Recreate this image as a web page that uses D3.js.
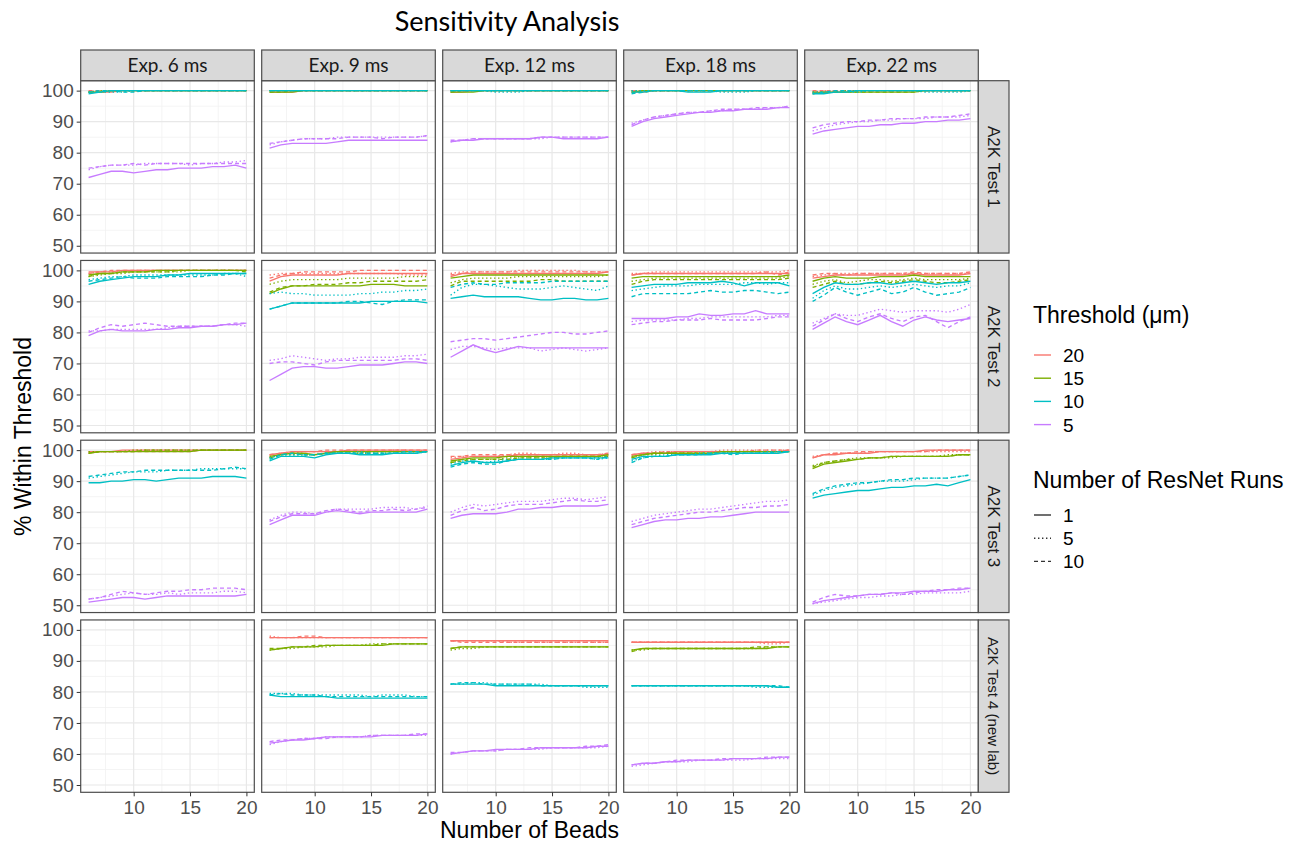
<!DOCTYPE html>
<html>
<head>
  <script src="https://d3js.org/d3.v7.min.js"></script>
  <style>
    body {
  margin: 0;
  background-color: #ffffff;
}

svg {
  display: block;
  font-family: Arial, 'Liberation Sans', sans-serif;
}

.grid-major {
  stroke: #e8e8e8;
  stroke-width: 1.2px;
}

.grid-minor {
  stroke: #f1f1f1;
  stroke-width: 0.8px;
}

.series {
  fill: none;
  stroke-width: 1.35px;
}

.axis text {
  fill: #4d4d4d;
  font-size: 19px;
  font-family: Arial, 'Liberation Sans', sans-serif;
}

.axis line {
  stroke: #333333;
}

.strip rect {
  fill: #d9d9d9;
  stroke: #4d4d4d;
  stroke-width: 1.2px;
}
  </style>
</head>
<body>

<script>
// Facets and legend levels
const exposures = ["Exp. 6 ms", "Exp. 9 ms", "Exp. 12 ms", "Exp. 18 ms", "Exp. 22 ms"];
const tests = ["A2K Test 1", "A2K Test 2", "A2K Test 3", "A2K Test 4 (new lab)"];
const thresholds = ["20", "15", "10", "5"];
const runs = ["1", "5", "10"];
const beads = [6, 7, 8, 9, 10, 11, 12, 13, 14, 15, 16, 17, 18, 19, 20];
const xTicks = [10, 15, 20];
const yTicks = [50, 60, 70, 80, 90, 100];

// Each panel: 12 series, threshold 20/15/10/5, each with runs 1/5/10
const test1_exp6 = [
  [99.5,99.5,99.5,100,100,100,100,100,100,100,100,100,100,100,100],
  [99.5,100,100,100,100,100,100,100,100,100,100,100,100,100,100],
  [100,100,100,100,100,100,100,100,100,100,100,100,100,100,100],
  [99.5,99.5,100,100,100,100,100,100,100,100,100,100,100,100,100],
  [99.5,100,100,100,100,100,100,100,100,100,100,100,100,100,100],
  [99.5,99.5,100,100,100,100,100,100,100,100,100,100,100,100,100],
  [99,99.5,100,100,100,100,100,100,100,100,100,100,100,100,100],
  [99.5,99.5,99.5,99.5,100,100,100,100,100,100,100,100,100,100,100],
  [99.5,100,100,99.5,99.5,100,100,100,100,100,100,100,100,100,100],
  [72,73,74,74,73.5,74,74.5,74.5,75,75,75,75.5,75.5,76,75],
  [74.5,75.5,76,76,76,76.5,76.5,76.5,76.5,76,76.5,76.5,77,77,77.5],
  [75,75.5,76,76,76.5,76,76.5,76.5,76.5,76.5,76.5,76.5,76.5,76.5,76.5]
];
const test1_exp9 = [
  [99.5,99.5,99.5,100,100,100,100,100,100,100,100,100,100,100,100],
  [100,100,100,100,100,100,100,100,100,100,100,100,100,100,100],
  [100,100,100,100,100,100,100,100,100,100,100,100,100,100,100],
  [99.5,99.5,99.5,100,100,100,100,100,100,100,100,100,100,100,100],
  [100,100,100,100,100,100,100,100,100,100,100,100,100,100,100],
  [99.5,99.5,100,100,100,100,100,100,100,100,100,100,100,100,100],
  [100,100,100,100,100,100,100,100,100,100,100,100,100,100,100],
  [100,100,100,100,100,100,100,100,100,100,100,100,100,100,100],
  [100,100,100,100,100,100,100,100,100,100,100,100,100,100,100],
  [81.5,82.5,83,83,83,83,83.5,84,84,84,84,84,84,84,84],
  [82.5,83.5,84,84.5,84.5,84.5,85,85,85,85,85,85,85,85,85.5],
  [83,83.5,84,84.5,84.5,84.5,84.5,85,85,85,84.5,85,85,85,85.5]
];
const test1_exp12 = [
  [99.5,99.5,100,100,100,100,100,100,100,100,100,100,100,100,100],
  [100,100,100,100,100,100,100,100,100,100,100,100,100,100,100],
  [100,100,100,100,100,100,100,100,100,100,100,100,100,100,100],
  [99.5,99.5,99.5,100,100,100,100,100,100,100,100,100,100,100,100],
  [100,100,100,100,100,100,100,100,100,100,100,100,100,100,100],
  [99.5,100,100,100,100,100,100,100,100,100,100,100,100,100,100],
  [100,100,100,100,100,100,100,100,100,100,100,100,100,100,100],
  [100,100,100,100,99.5,99.5,99.5,100,100,100,100,100,100,100,100],
  [100,100,100,100,100,100,100,100,100,100,100,100,100,100,100],
  [83.5,84,84,84.5,84.5,84.5,84.5,84.5,85,85,84.5,84.5,84.5,84.5,85],
  [83.5,84,84.5,84.5,84.5,84.5,84.5,84.5,84.5,85,85,85,85,85,85],
  [84,84,84.5,84.5,84.5,84.5,84.5,84.5,85,85,85,85,85,85,85]
];
const test1_exp18 = [
  [99.5,99.5,100,100,100,100,100,100,100,100,100,100,100,100,100],
  [100,100,100,100,100,100,100,100,100,100,100,100,100,100,100],
  [100,100,100,100,100,100,100,100,100,100,100,100,100,100,100],
  [99.5,100,100,100,100,100,100,100,100,100,100,100,100,100,100],
  [100,100,100,100,100,100,100,100,100,100,100,100,100,100,100],
  [99.5,99.5,100,100,100,100,100,100,100,100,100,100,100,100,100],
  [99.5,99.5,100,100,100,99.5,99.5,99.5,100,100,100,100,100,100,100],
  [100,100,100,100,100,100,100,100,99.5,99.5,99.5,100,100,100,100],
  [99,99.5,100,100,100,100,100,100,100,100,100,100,100,100,100],
  [88.5,90,91,91.5,92,92.5,93,93,93.5,93.5,94,94,94,94.5,94.5],
  [89.5,90.5,91.5,92,92.5,93,93,93.5,93.5,94,94,94,94.5,94.5,95],
  [89,90.5,91.5,92,92.5,93,93,93.5,94,94,94,94.5,94.5,94.5,95]
];
const test1_exp22 = [
  [99.5,99.5,99.5,99.5,100,100,100,100,100,100,100,100,100,100,100],
  [99.5,100,100,100,100,100,100,100,100,100,100,100,100,100,100],
  [100,100,100,100,100,100,100,100,100,100,100,100,100,100,100],
  [99,99.5,99.5,99.5,99.5,99.5,99.5,99.5,99.5,99.5,100,100,100,100,100],
  [99.5,99.5,99.5,100,100,100,100,100,100,100,100,100,100,100,100],
  [99.5,99.5,99.5,99.5,99.5,99.5,99.5,99.5,99.5,99.5,100,100,100,100,100],
  [99,99,99.5,99.5,100,100,100,100,100,100,100,100,100,100,100],
  [99.5,99.5,99.5,99.5,99.5,100,100,100,100,100,99.5,99.5,99.5,99.5,100],
  [99,99.5,100,100,100,100,100,100,100,100,100,100,100,100,100],
  [86,87,87.5,88,88.5,88.5,89,89,89.5,89.5,90,90,90.5,90.5,91],
  [87,88,89,89.5,90,90,90.5,90.5,91,91,91,91.5,91.5,91.5,92],
  [88,89,89.5,90,90,90.5,90.5,91,91,91,91.5,91.5,91.5,92,92.5]
];

const test2_exp6 = [
  [99.5,99.5,99.5,100,100,100,100,100,100,100,100,100,100,100,100],
  [99,99.5,99.5,99.5,100,100,100,100,100,100,100,100,100,100,100],
  [99,99.5,100,100,100,100,100,100,100,100,100,100,100,100,100],
  [98.5,99,99,99.5,99.5,99.5,100,100,100,100,100,100,100,100,100],
  [98,98.5,99,99,99.5,99.5,99.5,99.5,99.5,100,100,100,100,100,100],
  [98,99,99,99.5,99.5,99.5,99.5,99.5,100,100,100,100,100,100,99.5],
  [95.5,96.5,97,97.5,98,98,98,98.5,98.5,99,99,99,99,99,99],
  [97,97.5,98,98,98.5,98.5,98.5,98.5,98.5,98.5,98.5,98.5,99,99,98],
  [96.5,97,97.5,98,97.5,97.5,97.5,98,98,98,98,98.5,98.5,99,99],
  [79,80.5,81,80.5,80.5,80.5,81,81,81.5,81.5,82,82,82.5,82.5,83],
  [80.5,80.5,81,81,81,81,81,81.5,82,82,82,82,82.5,82.5,82],
  [80,81.5,82.5,82,82.5,83,82.5,82,82,82,82,82,82.5,83,83]
];
const test2_exp9 = [
  [96.5,98,98.5,98.5,98.5,98.5,98.5,99,99,99,99,99,99,99,99],
  [98.5,99,99,99,99,99,99,99,99,99,99,99,98.5,98.5,98.5],
  [97.5,98.5,99,99.5,99.5,99.5,99.5,99.5,100,100,100,100,100,100,100],
  [92.5,94,95,95,95,95,95,95,95,95.5,95.5,95.5,95,95,95],
  [95.5,96.5,97,97,97,97,97,97.5,97.5,97.5,97.5,97.5,98,98,98],
  [93,94.5,95,95,95.5,95.5,95.5,96,96,96.5,96.5,96.5,96.5,96.5,97],
  [87.5,88.5,89.5,89.5,89.5,89.5,89.5,89.5,89.5,90,90,90,90,90,89.5],
  [92.5,93,92.5,92.5,92,92,92,92,92.5,92.5,93,93,93.5,93.5,94],
  [87.5,88.5,89.5,89.5,89.5,89.5,89.5,90,90,89.5,89,90,90.5,90.5,90.5],
  [64.5,66.5,68.5,69,69,68.5,68.5,69,69.5,69.5,69.5,70,70.5,70.5,70],
  [71,71.5,72.5,72,71.5,71,71.5,71.5,72,72,72,72,72.5,72.5,73],
  [70,70.5,70.5,70,69.5,70.5,71,71,71,71,71,71,71.5,71.5,71]
];
const test2_exp12 = [
  [98,99,99,99,99,99,99,99,99,99,99,99,99,99,99.5],
  [99,99.5,99.5,99.5,99.5,99.5,100,100,100,100,100,100,99.5,99.5,99.5],
  [98.5,99,99.5,99.5,99.5,99.5,99.5,99.5,99.5,99.5,99.5,99.5,99.5,99.5,99.5],
  [97.5,98,98.5,98.5,98.5,98.5,98.5,98.5,98.5,98.5,98.5,98.5,98.5,98.5,98.5],
  [96,97,97.5,97.5,97.5,97.5,98,98,98,98,98,98,98,98,98.5],
  [95,96.5,96.5,96.5,96.5,96.5,96.5,96.5,97,97,96.5,96.5,96.5,96.5,96.5],
  [91,91.5,92,91.5,91.5,91.5,91.5,91,90.5,90.5,91,91,90.5,90.5,91],
  [92,94.5,95.5,95.5,95,94.5,94,94,94,94.5,95,94.5,94,93.5,95],
  [94.5,95.5,96,95.5,95.5,96,96,96,96,96.5,96.5,96.5,96.5,96.5,96.5],
  [72,74,76,74.5,73.5,74.5,75.5,75,75,75,75,75,75,75,75],
  [74.5,75.5,75.5,75,74.5,75,75,75,74,74.5,75,74.5,74,74.5,75],
  [77,77.5,78,78,77.5,78,78.5,79,79.5,80,80,79.5,79.5,80,80.5]
];
const test2_exp18 = [
  [98.5,99,99,99,99,99,99,99,99,99,99,99,99,99,99],
  [99,99,99.5,99.5,99.5,99.5,99.5,99.5,99.5,99.5,99.5,99.5,99.5,99.5,100],
  [98.5,99,99,99,99,99,99,99,99,99,99,99,99.5,98.5,99.5],
  [97.5,98,98,98,98,98,98,98,98,98,98,98,98,98,98.5],
  [96.5,97,97.5,97.5,97.5,97.5,97.5,97.5,97.5,97.5,97.5,97.5,97.5,97.5,98],
  [95.5,96.5,97,97,97,97,97,97,97,97,97,97,97,97,97.5],
  [94.5,95,95.5,95.5,95.5,96,96,96,96.5,96,95,96,96,96,95],
  [93.5,94,94.5,95,95,95,95.5,95.5,95.5,95.5,96,96,95.5,96,96],
  [91.5,92.5,92.5,92.5,92.5,92.5,93,93.5,93,93,93.5,93.5,93,92.5,93],
  [84.5,84.5,84.5,84.5,85,85,86,85.5,85.5,86,86,87,86,86,86],
  [83.5,84,84,84,84,84.5,84.5,85,85,85,85,85,85,85.5,85.5],
  [82.5,83,83.5,83.5,84,84,84,84.5,84,84,84,84,84.5,85,85]
];
const test2_exp22 = [
  [97.5,98,98.5,98.5,98.5,98.5,98.5,98.5,98.5,99,98.5,98.5,98.5,98.5,99],
  [98,98.5,99,99,99,99,99,99,99,99,99,99,99,99,99],
  [98.5,99,99,98.5,99,99,99,99,99,99.5,99,99,99,99,99.5],
  [96.5,97.5,98,97.5,97.5,97.5,98,98,98,98.5,98,98,98,98,98],
  [95.5,96.5,97,96,96.5,97,97,96.5,97,97.5,97,97,97,97,97.5],
  [94.5,95.5,96.5,95.5,95.5,96,96.5,96,96.5,97,96.5,96,96,96.5,97],
  [92.5,94.5,96,95.5,95.5,96,96,95.5,96,96.5,96,95.5,96,96,96.5],
  [91,93.5,95,94,94,94.5,95,94.5,95,95.5,95,94.5,95,95,96],
  [90,92,94.5,93,92,93,94,92.5,93,94.5,93,92,92.5,93,94.5],
  [81,83,85,83.5,82.5,84,85.5,83.5,82,84,85,84,83.5,84,84.5],
  [83,84.5,86,85.5,85.5,86.5,87.5,87,86.5,87,87,87,86.5,87.5,89],
  [82,84,86,84.5,83.5,85,86,84.5,83.5,85,85.5,83.5,81.5,83.5,85]
];

const test3_exp6 = [
  [99.5,99.5,99.5,100,100,100,100,100,100,100,100,100,100,100,100],
  [99,99.5,99.5,99.5,100,100,100,100,100,100,100,100,100,100,100],
  [99.5,99.5,99.5,99.5,99.5,99.5,99.5,99.5,99.5,99.5,100,100,100,100,100],
  [99,99.5,99.5,99.5,99.5,99.5,99.5,99.5,99.5,99.5,100,100,100,100,100],
  [99.5,99.5,99.5,99.5,100,100,100,100,100,100,100,100,100,100,100],
  [99,99.5,99.5,99.5,99.5,100,100,100,100,100,100,100,100,100,100],
  [89.5,89.5,90,90,90.5,90.5,90,90.5,91,91,91,91.5,91.5,91.5,91],
  [91,91.5,92,92.5,93,93,93,93.5,93.5,93.5,94,94,94,94,94],
  [91.5,92,92.5,93,93,93.5,93.5,93.5,93.5,93.5,93.5,93.5,94,94.5,94],
  [51,51.5,52,52.5,52.5,52,52.5,53,53,53,53,53,53,53,53.5],
  [52,52.5,53,53.5,54,53.5,53.5,54,53.5,54,54,54,54.5,54.5,54],
  [52,52.5,53.5,54.5,54,53.5,54,54.5,54.5,55,55,55.5,55.5,55.5,55]
];
const test3_exp9 = [
  [98.5,99,99.5,99.5,99.5,99.5,99.5,100,100,100,100,100,100,100,100],
  [98,99,99,99.5,99.5,99.5,99.5,99.5,99.5,99.5,99.5,100,100,99.5,100],
  [98.5,99,99.5,99.5,99.5,100,100,100,100,100,100,100,100,100,100],
  [98,98.5,99,99,98.5,99,99.5,99.5,99.5,99.5,99.5,99.5,99.5,99.5,99.5],
  [97.5,98.5,98.5,98.5,98.5,99,99,99,99,99,99,99,99.5,99.5,99.5],
  [97.5,98.5,99,98.5,98.5,99,99.5,99,99,99.5,99.5,99.5,99.5,99.5,99.5],
  [96.5,98,98,98,97.5,98.5,99,99,98.5,98.5,98.5,99,99,99,99.5],
  [97.5,98.5,98.5,98.5,98.5,99,99,99,99.5,99,99,99,99,99,99.5],
  [97,98.5,99,98.5,98.5,99,99,99,99,99,99,99,99.5,99.5,99.5],
  [76,77.5,79,79,79,80,80.5,80,79.5,80,80,80,80,80,81],
  [77.5,79,80,80,79.5,80,81,81,81,81,81.5,81.5,81.5,81,82],
  [77,78.5,79.5,79.5,79.5,80.5,81,80.5,80,80.5,80.5,81,80.5,81,81.5]
];
const test3_exp12 = [
  [97,97.5,98,98,98,98,98.5,98.5,98.5,98.5,98.5,98.5,98.5,98.5,98.5],
  [97.5,98,98,98,98,98.5,99,99,98.5,98.5,99,99,98.5,98.5,99],
  [98,98,98.5,98.5,98.5,98.5,98.5,98.5,98.5,98.5,98.5,98.5,98.5,98.5,99],
  [96.5,97,97.5,97.5,97.5,98,98,98,98,98,98,98,98,98,98.5],
  [96,97,97,97,97,97.5,97.5,97.5,97.5,97.5,98,98,98,97.5,98],
  [96,96.5,97,97,97,97,97.5,97.5,97.5,97.5,98,98,98,98,98],
  [95,96,96.5,96,96,96.5,97,97,97,97.5,97.5,97.5,97.5,97.5,97.5],
  [95.5,96.5,96.5,96,96.5,97,97,97,97,97,97.5,97.5,97.5,97,97.5],
  [94.5,95.5,96,95.5,95.5,96.5,97,97,97,97,97.5,97.5,97.5,97,98],
  [78,79,79.5,79.5,79.5,80,81,81,81.5,81.5,82,82,82,82,82.5],
  [80,81.5,82.5,82,82.5,83,83.5,83.5,83.5,84,84.5,84.5,84,84.5,85],
  [79,80.5,81.5,80.5,81,82,82.5,82.5,82.5,83,83.5,84,83.5,83.5,84]
];
const test3_exp18 = [
  [98.5,99,99,99,99.5,99.5,99.5,99.5,99.5,99.5,99.5,99.5,99.5,99.5,100],
  [98,99,99.5,99.5,99.5,99.5,99.5,99.5,100,100,100,100,100,100,100],
  [98.5,99,99,99.5,99.5,99.5,99.5,99.5,99.5,99.5,99.5,100,100,100,100],
  [98,98.5,99,99,99,99,99,99,99.5,99.5,99.5,99.5,99.5,99.5,99.5],
  [97.5,98.5,98.5,99,99,99,99,99,99,99.5,99.5,99.5,99.5,99.5,99.5],
  [97.5,98.5,99,99,99,99,99,99,99,99,99.5,99.5,99.5,99.5,99.5],
  [97,98,98,98,98.5,98.5,98.5,98.5,99,99,99,99,99,99,99.5],
  [96.5,97.5,98,98.5,98.5,98.5,99,99,99,99,99,99,99.5,99.5,99.5],
  [96,97.5,98,98,98.5,98.5,98.5,99,99,98.5,99,99,99,99.5,99.5],
  [75,76,77,77.5,77.5,78,78,78.5,78.5,79,79.5,80,80,80,80],
  [77,78,79,79.5,80,80.5,81,81,81.5,82,82.5,83,83.5,83.5,84],
  [76,77,78,78.5,79,79.5,80,80,80.5,81,81.5,81.5,82,82,82.5]
];
const test3_exp22 = [
  [97.5,98.5,98.5,99,99,99,99.5,99.5,99.5,99.5,100,100,100,100,100],
  [98,98.5,99,99,99,99.5,99.5,99.5,99.5,99.5,99.5,99.5,99.5,99.5,99.5],
  [97.5,98.5,99,99,99.5,99.5,99.5,99.5,99.5,99.5,99.5,100,100,100,100],
  [94,95.5,96,96.5,97,97.5,97.5,98,98,98,98,98,98,98.5,98.5],
  [95,96,96.5,97,97.5,97.5,97.5,97.5,98,98,98,98,98.5,98.5,98.5],
  [94.5,96,96.5,97,97,97.5,97.5,98,98,98,98,98,98,98.5,98.5],
  [84.5,85.5,86,86.5,87,87,87.5,88,88,88.5,88.5,89,88.5,89.5,90.5],
  [85.5,87,88,88.5,89,89.5,90,90,90,90.5,91,91,91,91.5,92],
  [86,87.5,88.5,89,89.5,89.5,90,90.5,90.5,91,91,91,91,91.5,92],
  [50.5,51.5,52,52.5,53,53.5,53.5,54,54,54.5,54.5,54.5,55,55,55.5],
  [50.5,51,51.5,52,52.5,52.5,53,53,53.5,53.5,54,54,54,54,54.5],
  [51,52.5,53.5,53,53,53.5,53.5,54,53.5,54,54.5,55,55,55.5,55.5]
];

const test4_exp6 = [];
const test4_exp9 = [
  [97.5,97.5,97.5,97.5,97.5,97.5,97.5,97.5,97.5,97.5,97.5,97.5,97.5,97.5,97.5],
  [98,97.5,97.5,97.5,97.5,97.5,97.5,97.5,97.5,97.5,97.5,97.5,97.5,97.5,97.5],
  [97.5,97.5,97.5,98,98,97.5,97.5,97.5,97.5,97.5,97.5,97.5,97.5,97.5,97.5],
  [93.5,94,94.5,94.5,94.5,95,95,95,95,95,95,95.5,95.5,95.5,95.5],
  [93.5,94,94,94.5,94.5,94.5,95,95,95,95.5,95.5,95.5,95.5,95.5,95.5],
  [94,94,94.5,94.5,95,95,95,95,95,95,95.5,95.5,95.5,95.5,95.5],
  [79,78.5,78.5,78.5,78.5,78.5,78,78,78,78,78,78,78,78,78],
  [79.5,79.5,79.5,79,79,79,79,79,79,78.5,79,79,79,78.5,78.5],
  [79,79.5,79,79,79,78.5,78.5,78.5,78.5,78.5,78.5,78.5,78.5,78.5,78.5],
  [63.5,64,64.5,64.5,65,65.5,65.5,65.5,65.5,65.5,66,66,66,66,66.5],
  [63,64,64.5,65,65,65.5,65.5,65.5,65.5,66,66,66,66,66,66],
  [64,64.5,64.5,65,65,65,65.5,65.5,65.5,66,66,66,66,66.5,66.5]
];
const test4_exp12 = [
  [96.5,96.5,96.5,96.5,96.5,96.5,96.5,96.5,96.5,96.5,96.5,96.5,96.5,96.5,96.5],
  [96.5,96.5,96.5,96.5,96.5,96,96,96,96,96,96,96,96,96,96],
  [96.5,96,96,96,96,96,96,96,96,96,96,96,96,96,96],
  [94,94.5,94.5,94.5,94.5,94.5,94.5,94.5,94.5,94.5,94.5,94.5,94.5,94.5,94.5],
  [93.5,94,94,94.5,94.5,94.5,94.5,94.5,94.5,94.5,94.5,94.5,94.5,94.5,94.5],
  [94,94.5,94.5,94.5,94.5,94.5,94.5,94.5,94.5,94.5,94.5,94.5,94.5,94.5,94.5],
  [82.5,82.5,82.5,82.5,82,82,82,82,82,82,82,82,82,82,82],
  [82.5,82.5,83,83,82.5,82.5,82.5,82.5,82.5,82,82,82,81.5,81.5,81.5],
  [82.5,83,83,82.5,82.5,82.5,82.5,82.5,82,82,82,82,82,82,82],
  [60,60.5,61,61,61.5,61.5,61.5,61.5,62,62,62,62,62,62.5,62.5],
  [60,60.5,61,61,61,61.5,61.5,61.5,61.5,62,62,62,62,62,62.5],
  [60.5,60.5,61,61,61,61.5,61.5,62,62,62,62,62,62.5,62.5,63]
];
const test4_exp18 = [
  [96,96,96,96,96,96,96,96,96,96,96,96,96,96,96],
  [96,96,96,96,96,96,96,96,96,96,96,96,95.5,95.5,96],
  [96,96,96,96,96,96,96,96,96,96,96,96,96,96,96],
  [93.5,94,94,94,94,94,94,94,94,94,94,94,94,94.5,94.5],
  [93.5,93.5,94,94,94,94,94,94,94,94,94,94,94.5,94.5,94.5],
  [93,94,94,94,94,94,94,94,94,94,94,94.5,94.5,94.5,94.5],
  [82,82,82,82,82,82,82,82,82,82,82,82,82,81.5,81.5],
  [82,82,82,82,82,82,82,82,82,82,82,81.5,81.5,81.5,81.5],
  [82,82,82,82,82,82,82,82,82,82,82,82,82,82,81.5],
  [56.5,57,57,57.5,57.5,58,58,58,58,58.5,58.5,58.5,58.5,59,59],
  [56,56.5,57,57.5,57.5,57.5,58,58,58,58,58,58.5,58.5,58.5,58.5],
  [56.5,57,57,57.5,58,58,58,58,58.5,58.5,58.5,58.5,59,59,59]
];
const test4_exp22 = [];

const panelRows = [
  [test1_exp6, test1_exp9, test1_exp12, test1_exp18, test1_exp22],
  [test2_exp6, test2_exp9, test2_exp12, test2_exp18, test2_exp22],
  [test3_exp6, test3_exp9, test3_exp12, test3_exp18, test3_exp22],
  [test4_exp6, test4_exp9, test4_exp12, test4_exp18, test4_exp22]
];

// Layout
const width = 1309;
const height = 843;
const marginLeft = 80.7, marginTop = 80.7;
const pw = 173.6, ph = 172.35, gap = 7.4;
const stripH = 30.7, stripW = 30.7;

const colors = ["#F8766D", "#7CAE00", "#00BFC4", "#C77CFF"];
const dashes = [null, "1.4 2.6", "4 3"];

const x = d3.scaleLinear().domain([5.3, 20.7]).range([0, pw]);
const y = d3.scaleLinear().domain([47.65, 103.2]).range([ph, 0]);

const line = d3.line()
  .x((d, i) => x(beads[i]))
  .y(d => y(d));

const svg = d3.select("body")
  .append("svg")
  .attr("width", width)
  .attr("height", height);

// Title
svg.append("text")
  .attr("x", 507)
  .attr("y", 31)
  .attr("text-anchor", "middle")
  .style("font-family", "Lato, 'Open Sans', sans-serif")
  .style("font-size", "27px")
  .attr("fill", "#000")
  .text("Sensitivity Analysis");

const px = c => marginLeft + c * (pw + gap);
const py = r => marginTop + r * (ph + gap);

panelRows.forEach((row, r) => {
  row.forEach((series, c) => {
    const g = svg.append("g").attr("transform", `translate(${px(c)},${py(r)})`);

    g.append("rect").attr("width", pw).attr("height", ph).attr("fill", "#fff");

    g.selectAll(".gx-minor").data([7.5, 12.5, 17.5]).enter().append("line")
      .attr("class", "grid-minor")
      .attr("x1", d => x(d)).attr("x2", d => x(d)).attr("y1", 0).attr("y2", ph);
    g.selectAll(".gy-minor").data([55, 65, 75, 85, 95]).enter().append("line")
      .attr("class", "grid-minor")
      .attr("x1", 0).attr("x2", pw).attr("y1", d => y(d)).attr("y2", d => y(d));
    g.selectAll(".gx").data(xTicks).enter().append("line")
      .attr("class", "grid-major")
      .attr("x1", d => x(d)).attr("x2", d => x(d)).attr("y1", 0).attr("y2", ph);
    g.selectAll(".gy").data(yTicks).enter().append("line")
      .attr("class", "grid-major")
      .attr("x1", 0).attr("x2", pw).attr("y1", d => y(d)).attr("y2", d => y(d));

    g.selectAll(".series").data(series).enter().append("path")
      .attr("class", "series")
      .attr("d", d => line(d))
      .attr("stroke", (d, i) => colors[Math.floor(i / 3)])
      .attr("stroke-dasharray", (d, i) => dashes[i % 3]);

    g.append("rect")
      .attr("width", pw).attr("height", ph)
      .attr("fill", "none").attr("stroke", "#4d4d4d").attr("stroke-width", 1.2);

    // y axis on first column
    if (c === 0) {
      g.append("g").attr("class", "axis")
        .call(d3.axisLeft(y).tickValues(yTicks).tickSize(4).tickPadding(3))
        .call(a => a.select(".domain").remove());
    }
    // x axis on bottom row
    if (r === panelRows.length - 1) {
      g.append("g").attr("class", "axis")
        .attr("transform", `translate(0,${ph})`)
        .call(d3.axisBottom(x).tickValues(xTicks).tickSize(4).tickPadding(4))
        .call(a => a.select(".domain").remove());
    }
  });
});

// Top strips
exposures.forEach((lab, c) => {
  const s = svg.append("g").attr("class", "strip")
    .attr("transform", `translate(${px(c)},${marginTop - stripH})`);
  s.append("rect").attr("width", pw).attr("height", stripH);
  s.append("text")
    .attr("x", pw / 2).attr("y", stripH / 2 + 7)
    .attr("text-anchor", "middle")
    .style("font-family", "Lato, 'Open Sans', sans-serif")
    .style("font-size", "19px")
    .attr("fill", "#1a1a1a")
    .text(lab);
});

// Right strips
tests.forEach((lab, r) => {
  const s = svg.append("g").attr("class", "strip")
    .attr("transform", `translate(${px(4) + pw},${py(r)})`);
  s.append("rect").attr("width", stripW).attr("height", ph);
  s.append("text")
    .attr("transform", `translate(${stripW / 2},${ph / 2}) rotate(90)`)
    .attr("text-anchor", "middle")
    .attr("dy", "0.35em")
    .style("font-size", r === 3 ? "15px" : "17px")
    .attr("fill", "#1a1a1a")
    .text(lab);
});

// Axis titles
svg.append("text")
  .attr("x", (marginLeft + px(4) + pw) / 2)
  .attr("y", 838)
  .attr("text-anchor", "middle")
  .style("font-size", "23px")
  .text("Number of Beads");

svg.append("text")
  .attr("transform", `translate(31,${(marginTop + py(3) + ph) / 2}) rotate(-90)`)
  .attr("text-anchor", "middle")
  .style("font-size", "23px")
  .text("% Within Threshold");

// Legends
const legX = 1033;
const leg1 = svg.append("g");
leg1.append("text").attr("x", legX).attr("y", 323)
  .style("font-size", "23px").text("Threshold (\u03bcm)");
thresholds.forEach((t, i) => {
  const yy = 355 + i * 23.2;
  leg1.append("line").attr("x1", legX + 1).attr("x2", legX + 18)
    .attr("y1", yy).attr("y2", yy)
    .attr("stroke", colors[i]).attr("stroke-width", 1.4);
  leg1.append("text").attr("x", legX + 30).attr("y", yy + 7)
    .style("font-size", "19px").text(t);
});

const leg2 = svg.append("g");
leg2.append("text").attr("x", legX).attr("y", 488)
  .style("font-size", "23px").text("Number of ResNet Runs");
runs.forEach((t, i) => {
  const yy = 515 + i * 23.2;
  leg2.append("line").attr("x1", legX + 1).attr("x2", legX + 18)
    .attr("y1", yy).attr("y2", yy)
    .attr("stroke", "#333").attr("stroke-width", 1.4)
    .attr("stroke-dasharray", dashes[i]);
  leg2.append("text").attr("x", legX + 30).attr("y", yy + 7)
    .style("font-size", "19px").text(t);
});
</script>
</body>
</html>
